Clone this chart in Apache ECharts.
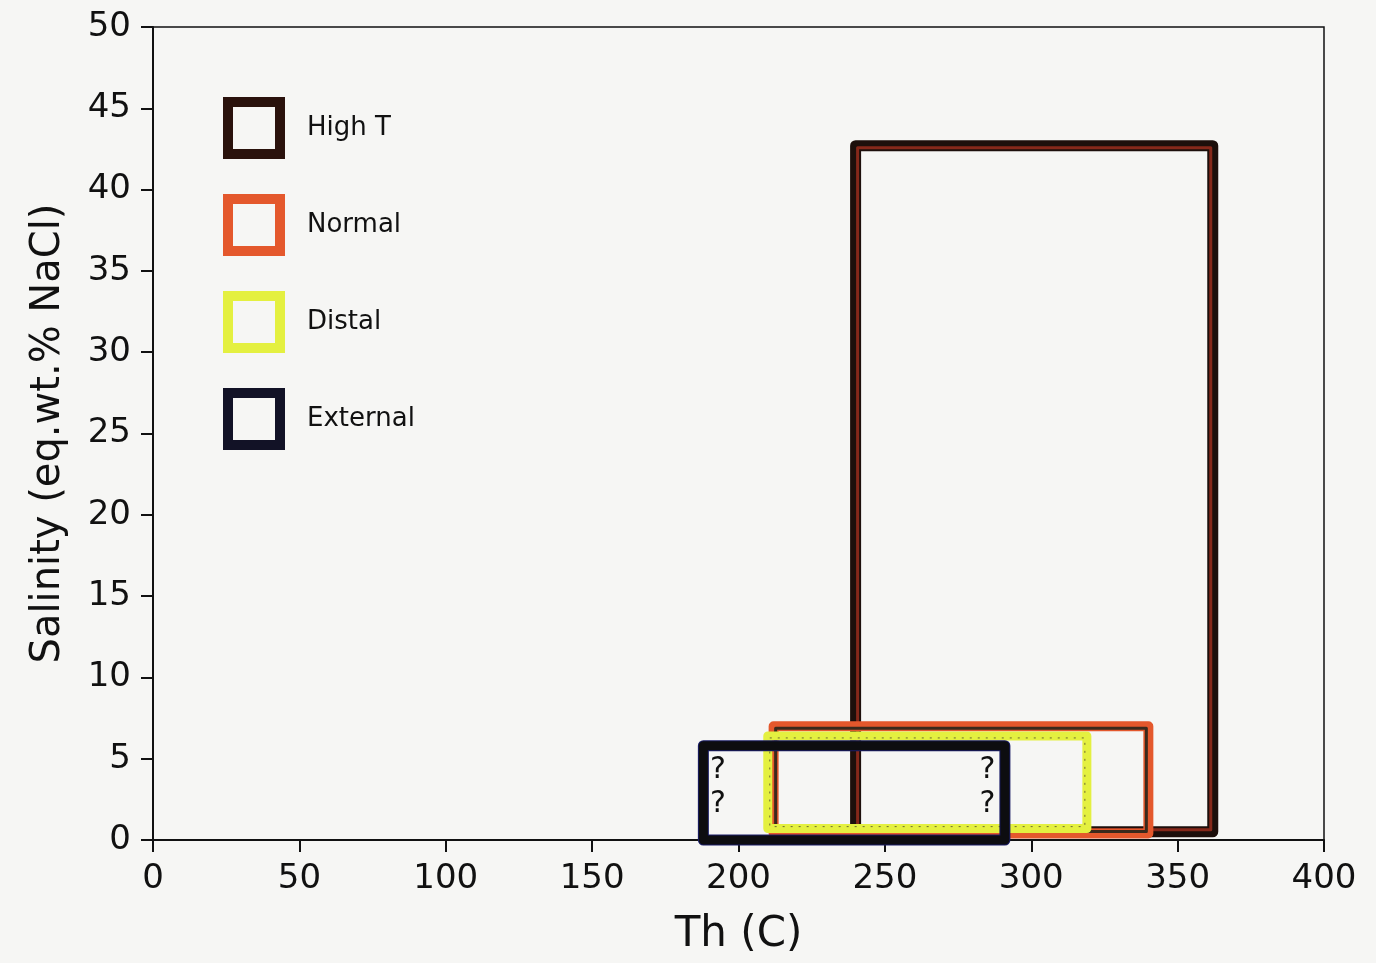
<!DOCTYPE html>
<html>
<head>
<meta charset="utf-8">
<title>Salinity vs Th</title>
<script src="https://cdn.jsdelivr.net/npm/echarts@6/dist/echarts.min.js"></script>
<style>
  html, body { margin: 0; padding: 0; background: #f6f6f4; }
  #chart { width: 1376px; height: 963px; }
</style>
</head>
<body>
<div id="chart"></div>
<script>
// Fluid-inclusion fields: homogenisation temperature range vs salinity range
const fieldNames = ['High T', 'Normal', 'Distal', 'External'];
const thMin = [240, 212, 210, 188];
const thMax = [362, 340, 319, 291];
const salMin = [0.5, 0.4, 0.7, 0.0];
const salMax = [42.7, 7.0, 6.4, 5.8];

// Uncertain boundaries of the External field
const queryMarks = [[193, 4.3], [193, 2.2], [285, 4.3], [285, 2.2]];

const xTicks = [0, 50, 100, 150, 200, 250, 300, 350, 400];
const yTicks = [0, 5, 10, 15, 20, 25, 30, 35, 40, 45, 50];

// Pen styles for each field outline: outer stroke, inner stroke
const penStyles = {
  'High T':   { outer: '#1d0f0b', outerW: 11, inner: '#86281a', innerW: 3,  legend: '#2a120c' },
  'Normal':   { outer: '#e4582c', outerW: 10, inner: '#3a2a1c', innerW: 3,  legend: '#e4582c' },
  'Distal':   { outer: '#e4f040', outerW: 9,  inner: '#6c6a30', innerW: 1,  legend: '#e4f040', dash: [2, 6] },
  'External': { outer: '#1a1d66', outerW: 11, inner: '#0d0d10', innerW: 9,  legend: '#121226' }
};

const font = '"DejaVu Sans", "Liberation Sans", sans-serif';

function boxSeries(i) {
  const name = fieldNames[i];
  const pen = penStyles[name];
  return {
    name: name,
    type: 'custom',
    z: 2 + i,
    silent: true,
    itemStyle: { color: pen.legend },
    data: [[thMin[i], thMax[i], salMin[i], salMax[i]]],
    encode: { x: [0, 1], y: [2, 3] },
    renderItem: function (params, api) {
      const a = api.coord([api.value(0), api.value(2)]);
      const b = api.coord([api.value(1), api.value(3)]);
      const x = Math.min(a[0], b[0]);
      const y = Math.min(a[1], b[1]);
      const w = Math.abs(b[0] - a[0]);
      const h = Math.abs(b[1] - a[1]);
      const inset = name === 'External' ? 0 : 2;
      return {
        type: 'group',
        children: [
          {
            type: 'rect',
            shape: { x: x, y: y, width: w, height: h },
            style: { fill: 'none', stroke: pen.outer, lineWidth: pen.outerW, lineJoin: 'round' }
          },
          {
            type: 'rect',
            shape: { x: x + inset, y: y + inset, width: w - 2 * inset, height: h - 2 * inset },
            style: {
              fill: 'none', stroke: pen.inner, lineWidth: pen.innerW,
              lineDash: pen.dash || null, lineJoin: 'round'
            }
          }
        ]
      };
    }
  };
}

const chart = echarts.init(document.getElementById('chart'), null, { renderer: 'canvas' });

const option = {
  backgroundColor: '#f6f6f4',
  animation: false,
  grid: {
    left: 153, right: 52, top: 27, bottom: 123,
    show: true, borderColor: '#111', borderWidth: 1.5, backgroundColor: 'transparent'
  },
  legend: {
    orient: 'vertical',
    left: 218, top: 92,
    itemWidth: 52, itemHeight: 52, itemGap: 35,
    icon: 'rect',
    textStyle: { fontFamily: font, fontSize: 26, color: '#111', padding: [0, 0, 0, 22] },
    data: fieldNames.map(function (n) {
      return {
        name: n,
        itemStyle: { color: 'rgba(0,0,0,0)', borderColor: penStyles[n].legend, borderWidth: 10 }
      };
    }),
    selectedMode: false
  },
  xAxis: {
    type: 'value',
    min: 0, max: 400, interval: 50,
    name: 'Th (C)',
    nameLocation: 'middle',
    nameGap: 74,
    nameTextStyle: { fontFamily: font, fontSize: 42, color: '#111' },
    axisLine: { show: true, onZero: false, lineStyle: { color: '#111', width: 2 } },
    axisTick: { show: true, inside: false, length: 12, lineStyle: { color: '#111', width: 2 } },
    axisLabel: {
      fontFamily: font, fontSize: 34, color: '#111', margin: 22,
      formatter: function (v) { return xTicks.indexOf(v) >= 0 ? String(v) : ''; }
    },
    splitLine: { show: false }
  },
  yAxis: {
    type: 'value',
    min: 0, max: 50, interval: 5,
    name: 'Salinity (eq.wt.% NaCl)',
    nameLocation: 'middle',
    nameGap: 84,
    nameTextStyle: { fontFamily: font, fontSize: 40, color: '#111' },
    axisLine: { show: true, onZero: false, lineStyle: { color: '#111', width: 2 } },
    axisTick: { show: true, inside: false, length: 12, lineStyle: { color: '#111', width: 2 } },
    axisLabel: {
      fontFamily: font, fontSize: 34, color: '#111', margin: 22,
      formatter: function (v) { return yTicks.indexOf(v) >= 0 ? String(v) : ''; }
    },
    splitLine: { show: false }
  },
  series: [
    boxSeries(2), // Distal
    boxSeries(1), // Normal
    boxSeries(0), // High T
    boxSeries(3), // External
    {
      // "?" marks along the uncertain edges of the External field
      name: 'queries',
      type: 'custom',
      z: 10,
      silent: true,
      data: queryMarks,
      encode: { x: 0, y: 1 },
      renderItem: function (params, api) {
        const p = api.coord([api.value(0), api.value(1)]);
        return {
          type: 'text',
          x: p[0], y: p[1],
          style: {
            text: '?', fill: '#101010',
            fontFamily: 'DejaVu Sans', fontSize: 30, fontWeight: 'normal',
            align: 'center', verticalAlign: 'middle'
          }
        };
      }
    }
  ]
};

chart.setOption(option);
</script>
</body>
</html>
